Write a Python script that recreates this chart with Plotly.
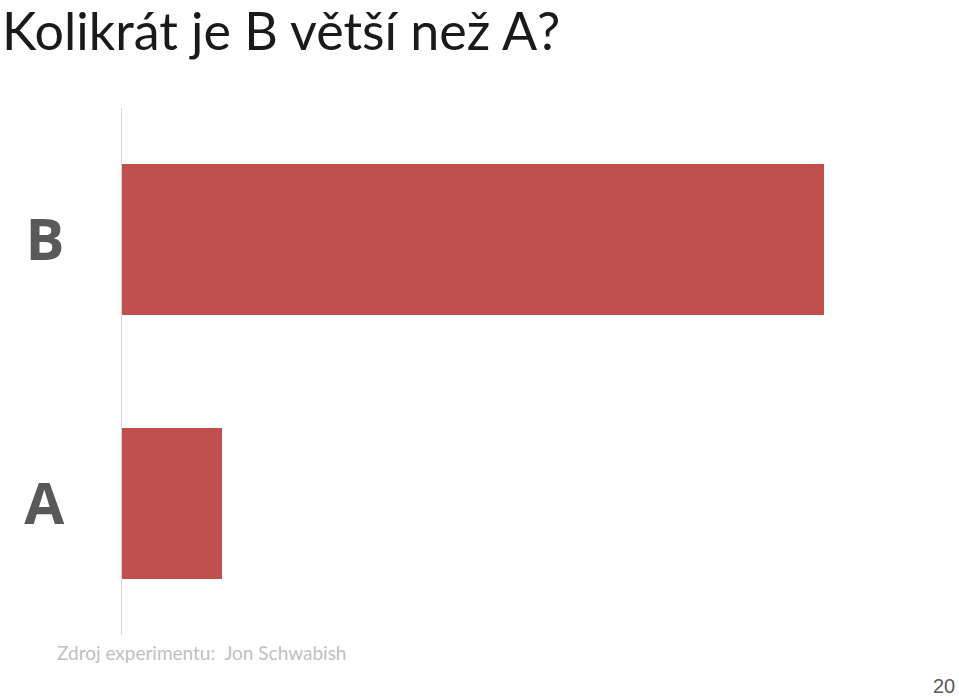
import plotly.graph_objects as go

categories = ["A", "B"]
values = [1, 7]
title_text = "Kolikrát je B větší než A?"
source_text = "Zdroj experimentu:  Jon Schwabish"
page_number = "20"

fig = go.Figure(
    go.Bar(
        x=values,
        y=categories,
        orientation="h",
        marker=dict(color="#C0504D", line=dict(width=0)),
        width=0.573,
        hoverinfo="skip",
    )
)

W, H = 959, 698
L, R, T, B = 122, 85, 108, 63
PW, PH = W - L - R, H - T - B
fig.update_layout(
    width=W,
    height=H,
    margin=dict(l=L, r=R, t=T, b=B),
    paper_bgcolor="white",
    plot_bgcolor="white",
    showlegend=False,
    bargap=0,
    xaxis=dict(
        range=[0, 7.5],
        showgrid=False,
        zeroline=False,
        showline=False,
        showticklabels=False,
        ticks="",
        fixedrange=True,
    ),
    yaxis=dict(
        categoryorder="array",
        categoryarray=categories,
        range=[-0.5, 1.5],
        showgrid=False,
        zeroline=False,
        showline=True,
        linecolor="#D9D9D9",
        linewidth=1,
        ticks="",
        ticklabelstandoff=45,
        tickfont=dict(family="Open Sans, sans-serif", size=58, color="#595959", weight="bold"),
        fixedrange=True,
    ),
    annotations=[
        dict(
            text=title_text,
            xref="paper",
            yref="paper",
            x=(0 - L) / PW,
            y=(T + PH - 30) / PH,
            xanchor="left",
            yanchor="middle",
            showarrow=False,
            font=dict(family="Lato, Open Sans, sans-serif", size=52, color="#1a1a1a"),
        ),
        dict(
            text=source_text,
            xref="paper",
            yref="paper",
            x=(55 - L) / PW,
            y=-(652 - T - PH) / PH,
            xanchor="left",
            yanchor="middle",
            showarrow=False,
            font=dict(family="Lato, Open Sans, sans-serif", size=19, color="#BFBFBF"),
        ),
        dict(
            text=page_number,
            xref="paper",
            yref="paper",
            x=(957 - L) / PW,
            y=-(686 - T - PH) / PH,
            xanchor="right",
            yanchor="middle",
            showarrow=False,
            font=dict(family="Liberation Sans, Arial, sans-serif", size=20, color="#595959"),
        ),
    ],
)

fig.write_html(
    "out.html",
    config=dict(displayModeBar=False),
    post_script="document.body.style.margin='0px';document.body.style.overflow='hidden';",
)
